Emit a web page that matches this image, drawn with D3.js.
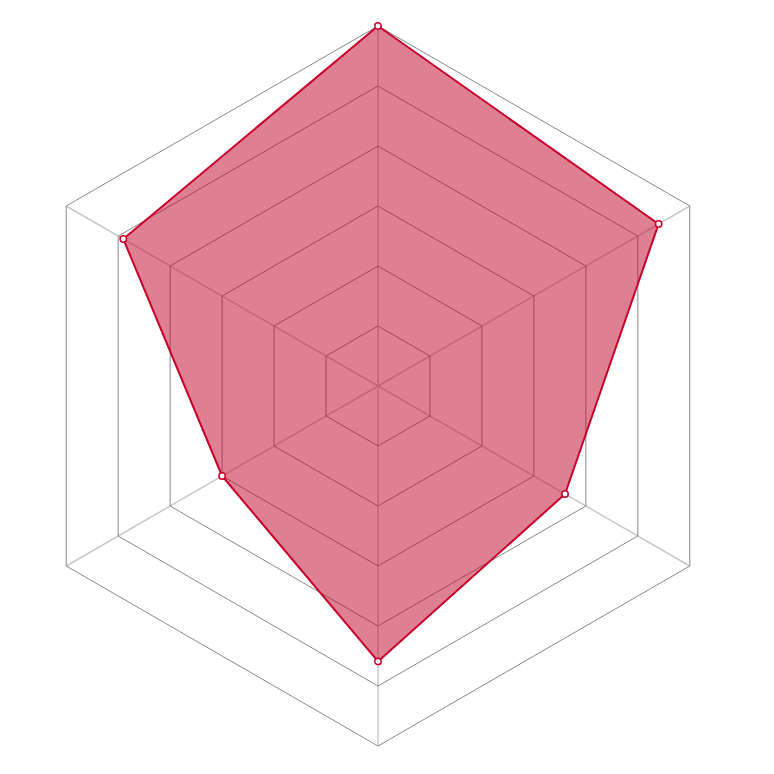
<!DOCTYPE html>
<html>
<head>
<meta charset="utf-8">
<script src="https://cdn.jsdelivr.net/npm/d3@7"></script>
<style>
  html, body { margin: 0; padding: 0; background: #fff; }
  svg { display: block; }
</style>
</head>
<body>
<svg width="774" height="774"></svg>
<script>
// six axes, clockwise from the top
const axes = ["A", "B", "C", "D", "E", "F"];
const values = [100, 90, 60, 76.5, 50, 81.7];
const levels = [1, 2, 3, 4, 5, 6];
const maxValue = 100;

const svg = d3.select("svg");
const cx = 378, cy = 386, radius = 360;

const r = d3.scaleLinear().domain([0, maxValue]).range([0, radius]);
const angle = d3.scaleLinear().domain([0, axes.length]).range([0, 2 * Math.PI]);

const point = (i, v) => {
	const a = angle(i);
	return [r(v) * Math.sin(a), -r(v) * Math.cos(a)];
};

const g = svg.append("g").attr("transform", `translate(${cx},${cy})`);

// spokes
g.selectAll("line.spoke")
	.data(axes)
	.enter()
	.append("line")
	.attr("class", "spoke")
	.attr("x1", 0)
	.attr("y1", 0)
	.attr("x2", (d, i) => point(i, maxValue)[0])
	.attr("y2", (d, i) => point(i, maxValue)[1])
	.attr("stroke", "#c8c8c8")
	.attr("stroke-width", 1.5);

// hexagon rings
const ringLine = d3.line().curve(d3.curveLinearClosed);
g.selectAll("path.ring")
	.data(levels)
	.enter()
	.append("path")
	.attr("class", "ring")
	.attr("d", (lv) => ringLine(axes.map((d, i) => point(i, (maxValue * lv) / levels.length))))
	.attr("fill", "none")
	.attr("stroke", "#888")
	.attr("stroke-width", 1);

// data area
g.append("path")
	.attr("d", ringLine(values.map((v, i) => point(i, v))))
	.attr("fill", "#bf0025")
	.attr("fill-opacity", 0.5)
	.attr("stroke", "#c8002a")
	.attr("stroke-width", 2)
	.attr("stroke-linejoin", "round");

// markers
g.selectAll("circle")
	.data(values)
	.enter()
	.append("circle")
	.attr("cx", (v, i) => point(i, v)[0])
	.attr("cy", (v, i) => point(i, v)[1])
	.attr("r", 3.2)
	.attr("fill", "#fff")
	.attr("stroke", "#c8002a")
	.attr("stroke-width", 1.5);
</script>
</body>
</html>
